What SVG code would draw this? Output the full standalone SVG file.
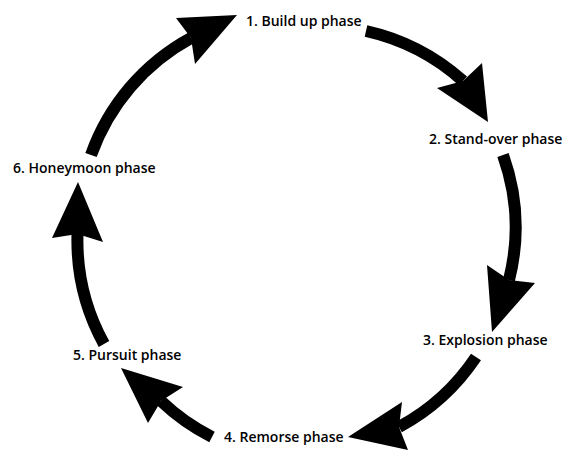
<svg xmlns="http://www.w3.org/2000/svg" width="564" height="451" viewBox="0 0 564 451">
<style>
.lbl{font-family:"Open Sans","Liberation Sans",sans-serif;font-weight:600;font-size:14px;fill:#000}
.shaft{fill:none;stroke:#000;stroke-width:12}
.head{fill:#000;stroke:none}
</style>
<rect width="564" height="451" fill="#fff"/>
<g id="connectors">
<g id="arrow-6-1">
<path class="shaft" d="M91,155 A215,215 0 0 1 191,38"/>
<polygon class="head" points="237,15 176,18 191,38 195,64"/>
</g>
<g id="arrow-1-2">
<path class="shaft" d="M366,31 A215,215 0 0 1 463,81"/>
<polygon class="head" points="488,122 437,88 463,81 482,63"/>
</g>
<g id="arrow-2-3">
<path class="shaft" d="M503,155 A215,215 0 0 1 509,280"/>
<polygon class="head" points="492,332 487,265 509,280 535,283"/>
</g>
<g id="arrow-3-4">
<path class="shaft" d="M476,357 A215,215 0 0 1 399,427"/>
<polygon class="head" points="348,437 402,402 399,427 408,450"/>
</g>
<g id="arrow-4-5">
<path class="shaft" d="M212,437 A215,215 0 0 1 161,401"/>
<polygon class="head" points="121,368 183,387 161,401 148,423"/>
</g>
<g id="arrow-5-6">
<path class="shaft" d="M104,344 A215,215 0 0 1 77.5,234"/>
<polygon class="head" points="78,182 103,242 77.5,234 52,238"/>
</g>
</g>
<g id="node-1"><text class="lbl" x="246" y="26">1. Build up phase</text></g>
<g id="node-2"><text class="lbl" x="429" y="144">2. Stand-over phase</text></g>
<g id="node-3"><text class="lbl" x="423" y="345">3. Explosion phase</text></g>
<g id="node-4"><text class="lbl" x="224" y="442">4. Remorse phase</text></g>
<g id="node-5"><text class="lbl" x="73" y="360">5. Pursuit phase</text></g>
<g id="node-6"><text class="lbl" x="13" y="173">6. Honeymoon phase</text></g>
</svg>
